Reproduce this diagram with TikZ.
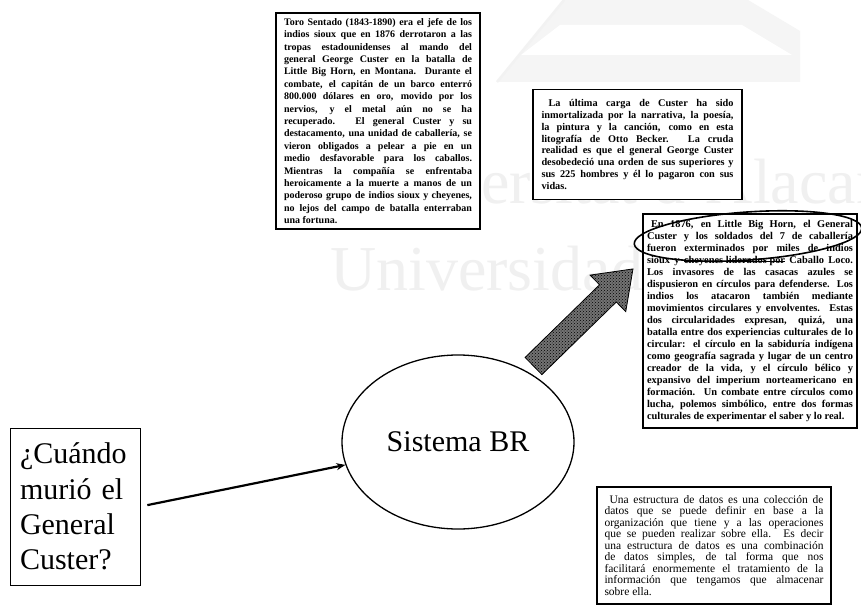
\documentclass[tikz,border=0pt]{standalone}
\usepackage{fontspec}
\setmainfont{Liberation Serif}
\usetikzlibrary{shapes.geometric,arrows.meta,patterns}
\setlength{\parindent}{0pt}
\newcommand{\mystrike}[1]{\setbox0=\hbox{#1}\rlap{\raisebox{0.32ex}{\rule{\wd0}{0.8pt}}}\box0\relax}
\begin{document}
\begin{tikzpicture}[x=1pt,y=-1pt,
  box/.style={draw=black, line width=1.2pt, fill=white, inner sep=0pt, align=justify},
  conn/.style={line width=2.2pt, -{Stealth[length=9pt,width=7pt]}},
  wm/.style={text=black!6, font=\fontsize{64}{64}\selectfont, anchor=base west, inner sep=0pt}]
\useasboundingbox (0,0) rectangle (861,607);
\fill[white] (0,0) rectangle (861,607);

% faint logo (watermark)
\fill[black!4] (497,82) -- (564,0) -- (748,0) -- (800,31) -- (800,82) -- cycle;
\fill[white] (560,25) -- (742,25) -- (792,55) -- (521,55) -- cycle;
\draw[black!5, line width=2.5pt] (497,82) -- (564,0);

% watermark text (only the parts left visible by the boxes)
\node[wm] (wm1) at (481,203) {ersitat d'Alacant};
\node[wm] (wm2) at (330,290) {Universidad};

% box 1
\node[box, minimum width=204pt, minimum height=216pt, text width=188pt,
      font=\bfseries\fontsize{10}{12.4}\selectfont] (b1) at (378,121) {%
Toro Sentado (1843-1890) era el jefe de los\linebreak
indios sioux que en 1876 derrotaron a las\linebreak
tropas estadounidenses al mando del\linebreak
general George Custer en la batalla de\linebreak
Little Big Horn, en Montana. Durante el\linebreak
combate, el capitán de un barco enterró\linebreak
800.000 dólares en oro, movido por los\linebreak
nervios, y el metal aún no se ha\linebreak
recuperado. El general Custer y su\linebreak
destacamento, una unidad de caballería, se\linebreak
vieron obligados a pelear a pie en un\linebreak
medio desfavorable para los caballos.\linebreak
Mientras la compañía se enfrentaba\linebreak
heroicamente a la muerte a manos de un\linebreak
poderoso grupo de indios sioux y cheyenes,\linebreak
no lejos del campo de batalla enterraban\linebreak
una fortuna.};

% box 2
\node[box, minimum width=209pt, minimum height=110pt, text width=192pt,
      font=\bfseries\fontsize{10.3}{11.8}\selectfont] (b2) at (637.5,144.5) {%
\hspace*{7pt}La última carga de Custer ha sido\linebreak
inmortalizada por la narrativa, la poesía,\linebreak
la pintura y la canción, como en esta\linebreak
litografía de Otto Becker. La cruda\linebreak
realidad es que el general George Custer\linebreak
desobedeció una orden de sus superiores y\linebreak
sus 225 hombres y él lo pagaron con sus\linebreak
vidas.};

% box 3
\node[box, minimum width=214pt, minimum height=214pt, text width=206pt,
      font=\bfseries\fontsize{10.4}{12}\selectfont] (b3) at (750,321) {%
\hspace*{4pt}En 1876, en Little Big Horn, el General\linebreak
Custer y los soldados del 7 de caballería\linebreak
fueron exterminados por miles de indios\linebreak
sioux y \mystrike{cheyenes liderados por} Caballo Loco.\linebreak
Los invasores de las casacas azules se\linebreak
dispusieron en círculos para defenderse. Los\linebreak
indios los atacaron también mediante\linebreak
movimientos circulares y envolventes. Estas\linebreak
dos circularidades expresan, quizá, una\linebreak
batalla entre dos experiencias culturales de lo\linebreak
circular: el círculo en la sabiduría indígena\linebreak
como geografía sagrada y lugar de un centro\linebreak
creador de la vida, y el círculo bélico y\linebreak
expansivo del imperium norteamericano en\linebreak
formación. Un combate entre círculos como\linebreak
lucha, polemos simbólico, entre dos formas\linebreak
culturales de experimentar el saber y lo real.};

% box 4
\node[box, minimum width=234pt, minimum height=117pt, text width=219pt,
      font=\fontsize{11.5}{11.5}\selectfont] (b4) at (714,545.5) {%
\hspace*{5pt}Una estructura de datos es una colección de\linebreak
datos que se puede definir en base a la\linebreak
organización que tiene y a las operaciones\linebreak
que se pueden realizar sobre ella. Es decir\linebreak
una estructura de datos es una combinación\linebreak
de datos simples, de tal forma que nos\linebreak
facilitará enormemente el tratamiento de la\linebreak
información que tengamos que almacenar\linebreak
sobre ella.};

% question box
\node[draw, line width=1pt, minimum width=130pt, minimum height=157pt,
      text width=110pt, align=left, inner sep=0pt,
      font=\fontsize{30}{35.3}\selectfont] (q) at (75,506.5)
      {¿Cuándo\\murió el\\General\\Custer?};

% system ellipse
\node[draw, ellipse, line width=1.3pt, minimum width=232pt, minimum height=174pt,
      inner sep=0pt, font=\fontsize{30}{36}\selectfont] (sys) at (458,442) {Sistema BR};

% connector
\draw[conn, shorten <=7pt] (q.east) -- (sys);

% thick halftone arrow
\begin{scope}[shift={(533.5,366)}, rotate=44.3]
\filldraw[fill=black!55, draw=black, line width=0.8pt]
  (0,-12) -- (104,-12) -- (104,-25.5) -- (139,0) -- (104,25.5) -- (104,12) -- (0,12) -- cycle;
\fill[pattern=crosshatch dots, pattern color=black]
  (0,-12) -- (104,-12) -- (104,-25.5) -- (139,0) -- (104,25.5) -- (104,12) -- (0,12) -- cycle;
\end{scope}

% hand-drawn oval over box 3
\draw[line width=1.6pt, rotate around={4:(748,236)}] (748,236) ellipse [x radius=114pt, y radius=24pt];
\end{tikzpicture}
\end{document}
